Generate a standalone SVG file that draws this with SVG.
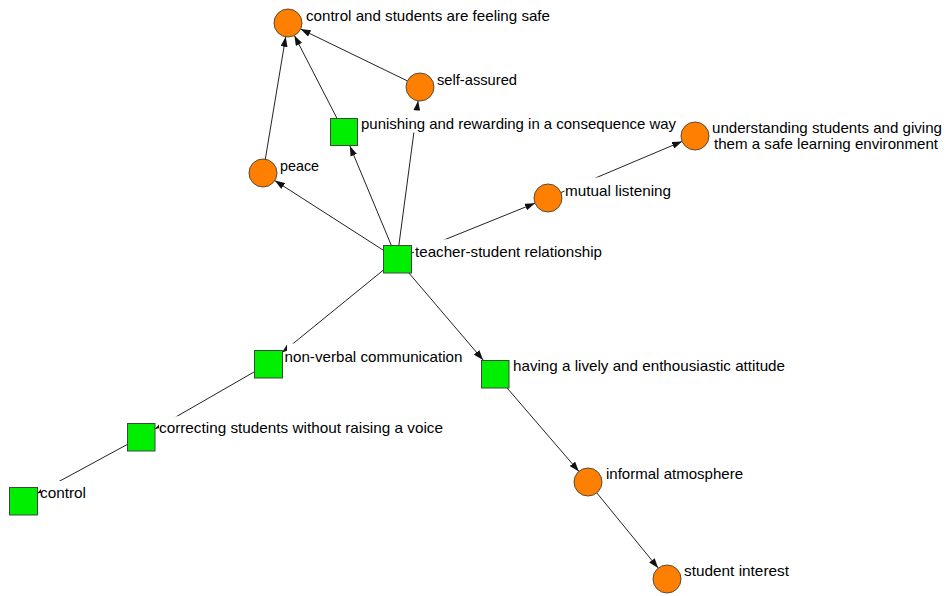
<svg xmlns="http://www.w3.org/2000/svg" width="948" height="596" viewBox="0 0 948 596">
  <defs>
    <marker id="arrow" viewBox="0 0 10 7" refX="10" refY="3.5" markerWidth="10" markerHeight="7" markerUnits="userSpaceOnUse" orient="auto">
      <path d="M0,0 L10,3.5 L0,7 z" fill="#111"/>
    </marker>
    <style>
      .edge { stroke: #222; stroke-width: 1; fill: none; marker-end: url(#arrow); }
      .concept { fill: #ff8000; stroke: #5a4a3a; stroke-width: 1; }
      .factor { fill: #00ee00; stroke: #3c4a3c; stroke-width: 1; }
      .lblbg { fill: #ffffff; }
      .lbl { font-family: "Liberation Sans", Arial, sans-serif; font-size: 14.5px; fill: #000; }
    </style>
  </defs>
  <rect width="948" height="596" fill="#ffffff"/>

  <!-- connectors: from source boundary to target boundary -->
  <g id="connectors">
    <line class="edge" x1="265.3" y1="159.2" x2="285.7" y2="36.8"/>
    <line class="edge" x1="336.8" y1="118" x2="294.4" y2="35.5"/>
    <line class="edge" x1="407.4" y1="80.9" x2="300.6" y2="29.1"/>
    <line class="edge" x1="398.9" y1="245" x2="418.1" y2="100.9"/>
    <line class="edge" x1="391.2" y1="245" x2="349.9" y2="146"/>
    <line class="edge" x1="383" y1="250" x2="274.8" y2="180.6"/>
    <line class="edge" x1="411" y1="253.3" x2="535" y2="203.2"/>
    <line class="edge" x1="560.9" y1="192.6" x2="682.1" y2="141.4"/>
    <line class="edge" x1="383" y1="270.4" x2="282" y2="352.6"/>
    <line class="edge" x1="254" y1="372" x2="155" y2="428.9"/>
    <line class="edge" x1="127" y1="444.6" x2="37" y2="493.4"/>
    <line class="edge" x1="408.9" y1="273" x2="483.1" y2="360"/>
    <line class="edge" x1="507.1" y1="388" x2="578.9" y2="471.4"/>
    <line class="edge" x1="596.8" y1="492.9" x2="658.2" y2="568.1"/>
  </g>

  <!-- nodes: shape plus label on a white backing -->
  <g id="node-control-safe">
    <circle class="concept" cx="288" cy="23" r="14"/>
    <rect class="lblbg" x="304" y="2.5" width="250" height="22"/>
    <text class="lbl" x="306" y="20.5" textLength="244" lengthAdjust="spacingAndGlyphs">control and students are feeling safe</text>
  </g>
  <g id="node-self-assured">
    <circle class="concept" cx="420" cy="87" r="14"/>
    <rect class="lblbg" x="435" y="66.5" width="85" height="22"/>
    <text class="lbl" x="437" y="84.5" textLength="80" lengthAdjust="spacingAndGlyphs">self-assured</text>
  </g>
  <g id="node-punishing">
    <rect class="factor" x="330.5" y="118.5" width="27" height="27"/>
    <rect class="lblbg" x="359.5" y="110.5" width="320" height="22"/>
    <text class="lbl" x="361" y="128.5" textLength="315" lengthAdjust="spacingAndGlyphs">punishing and rewarding in a consequence way</text>
  </g>
  <g id="node-peace">
    <circle class="concept" cx="263" cy="173" r="14"/>
    <rect class="lblbg" x="278.5" y="152.5" width="44" height="22"/>
    <text class="lbl" x="280" y="170.5" textLength="39" lengthAdjust="spacingAndGlyphs">peace</text>
  </g>
  <g id="node-teacher-student">
    <rect class="factor" x="383.5" y="245.5" width="28" height="27.5"/>
    <rect class="lblbg" x="414" y="239.3" width="192" height="22"/>
    <text class="lbl" x="415" y="257.3" textLength="187" lengthAdjust="spacingAndGlyphs">teacher-student relationship</text>
  </g>
  <g id="node-mutual-listening">
    <circle class="concept" cx="548" cy="198" r="14"/>
    <rect class="lblbg" x="564.5" y="177.5" width="110" height="22"/>
    <text class="lbl" x="565" y="195.5" textLength="106" lengthAdjust="spacingAndGlyphs">mutual listening</text>
  </g>
  <g id="node-understanding">
    <circle class="concept" cx="695" cy="136" r="14"/>
    <rect class="lblbg" x="710.5" y="115.5" width="236" height="38"/>
    <text class="lbl" x="712" y="133.3" textLength="230" lengthAdjust="spacingAndGlyphs">understanding students and giving</text>
    <text class="lbl" x="714" y="149.3" textLength="224" lengthAdjust="spacingAndGlyphs">them a safe learning environment</text>
  </g>
  <g id="node-non-verbal">
    <rect class="factor" x="254.5" y="350.5" width="28" height="27.5"/>
    <rect class="lblbg" x="287" y="343.5" width="179" height="22"/>
    <text class="lbl" x="284.5" y="361.7" textLength="178" lengthAdjust="spacingAndGlyphs">non-verbal communication</text>
  </g>
  <g id="node-correcting">
    <rect class="factor" x="127.5" y="423.5" width="27.5" height="27.5"/>
    <rect class="lblbg" x="159" y="416.3" width="288" height="22"/>
    <text class="lbl" x="159" y="433.3" textLength="284" lengthAdjust="spacingAndGlyphs">correcting students without raising a voice</text>
  </g>
  <g id="node-control">
    <rect class="factor" x="9.5" y="487.5" width="28" height="27.5"/>
    <rect class="lblbg" x="41" y="481" width="49" height="22"/>
    <text class="lbl" x="40" y="497.7" textLength="46" lengthAdjust="spacingAndGlyphs">control</text>
  </g>
  <g id="node-having">
    <rect class="factor" x="481.5" y="360.5" width="27.5" height="27.5"/>
    <rect class="lblbg" x="511" y="352.5" width="278" height="22"/>
    <text class="lbl" x="513" y="370.7" textLength="272" lengthAdjust="spacingAndGlyphs">having a lively and enthousiastic attitude</text>
  </g>
  <g id="node-informal">
    <circle class="concept" cx="588" cy="482" r="14"/>
    <rect class="lblbg" x="604" y="461" width="142" height="22"/>
    <text class="lbl" x="606" y="479" textLength="137" lengthAdjust="spacingAndGlyphs">informal atmosphere</text>
  </g>
  <g id="node-student-interest">
    <circle class="concept" cx="667" cy="579" r="14"/>
    <rect class="lblbg" x="682" y="558" width="110" height="22"/>
    <text class="lbl" x="684" y="576" textLength="105" lengthAdjust="spacingAndGlyphs">student interest</text>
  </g>
</svg>
